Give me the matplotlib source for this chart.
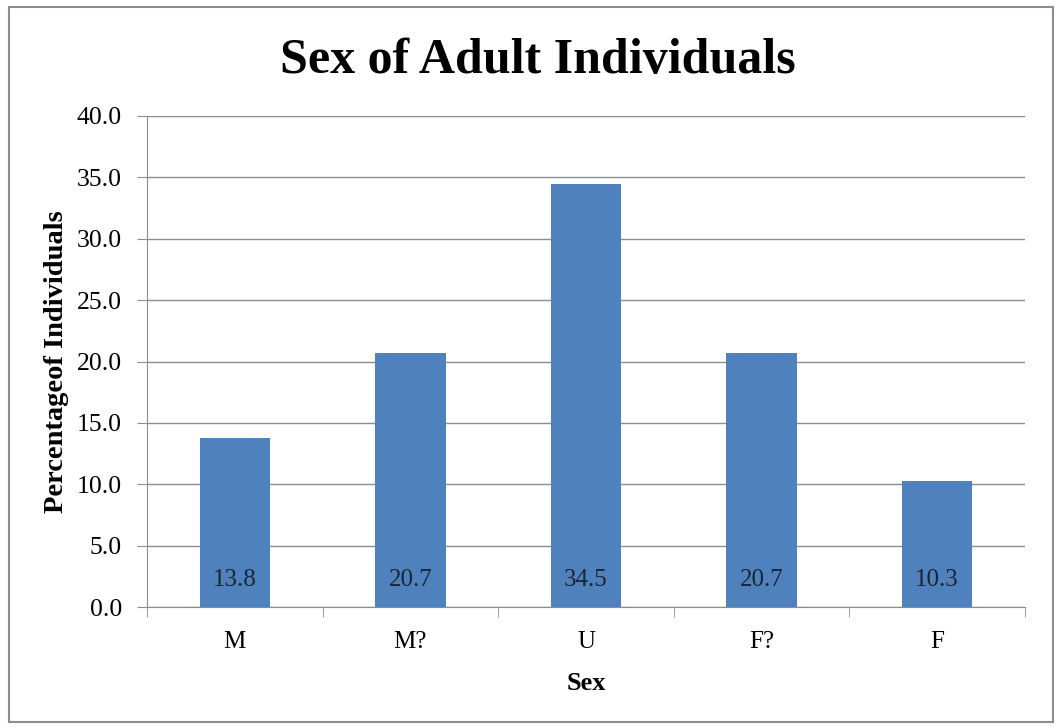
import matplotlib.pyplot as plt
from matplotlib.patches import Rectangle
import numpy as np

# Percentage of adult individuals by assigned sex
categories = ["M", "M?", "U", "F?", "F"]
percentages = [13.8, 20.7, 34.5, 20.7, 10.3]
y_ticks = [0.0, 5.0, 10.0, 15.0, 20.0, 25.0, 30.0, 35.0, 40.0]

plt.rcParams['font.family'] = ['Liberation Serif', 'DejaVu Serif']

fig = plt.figure(figsize=(10.56, 7.27), dpi=100)
W, H = 1056, 727

# outer chart border
fig.patches.append(Rectangle((9 / W, 1 - 722 / H), 1044 / W, 715 / H,
                             transform=fig.transFigure, fill=False,
                             edgecolor='#8c8c8c', linewidth=1.5))

ax = fig.add_axes([147 / W, 1 - 607 / H, 878 / W, 491 / H])

x = np.arange(len(categories))
ax.bar(x, percentages, width=0.4, color='#4f81bd', zorder=3)

for xi, val in zip(x, percentages):
    ax.text(xi, 2.2, f"{val:.1f}", ha='center', va='center',
            fontsize=18, color='#1a2535', zorder=4)

ax.set_xlim(-0.5, len(categories) - 0.5)
ax.set_ylim(0, 40)
ax.set_yticks(y_ticks)
ax.set_yticklabels([f"{t:.1f}" for t in y_ticks], fontsize=18.5)
ax.set_xticks(x)
ax.set_xticklabels(categories, fontsize=18)
ax.set_xticks(np.arange(-0.5, len(categories)), minor=True)

ax.yaxis.grid(True, color='#8c8c8c', linewidth=1.0, zorder=0)
ax.tick_params(axis='x', which='major', length=0, pad=17)
ax.tick_params(axis='x', which='minor', length=7, color='#8c8c8c', direction='out')
ax.tick_params(axis='y', length=7, color='#8c8c8c', direction='out', pad=11)

for side in ['top', 'right']:
    ax.spines[side].set_visible(False)
for side in ['left', 'bottom']:
    ax.spines[side].set_color('#8c8c8c')

ax.set_xlabel("Sex", fontsize=19, fontweight='bold', labelpad=14)
ax.set_ylabel("Percentageof Individuals", fontsize=20.5, fontweight='bold', labelpad=6)

fig.text(538 / W, 1 - 61 / H, "Sex of Adult Individuals", ha='center', va='center',
         fontsize=36, fontweight='bold')

fig.savefig("out.png", dpi=100)
